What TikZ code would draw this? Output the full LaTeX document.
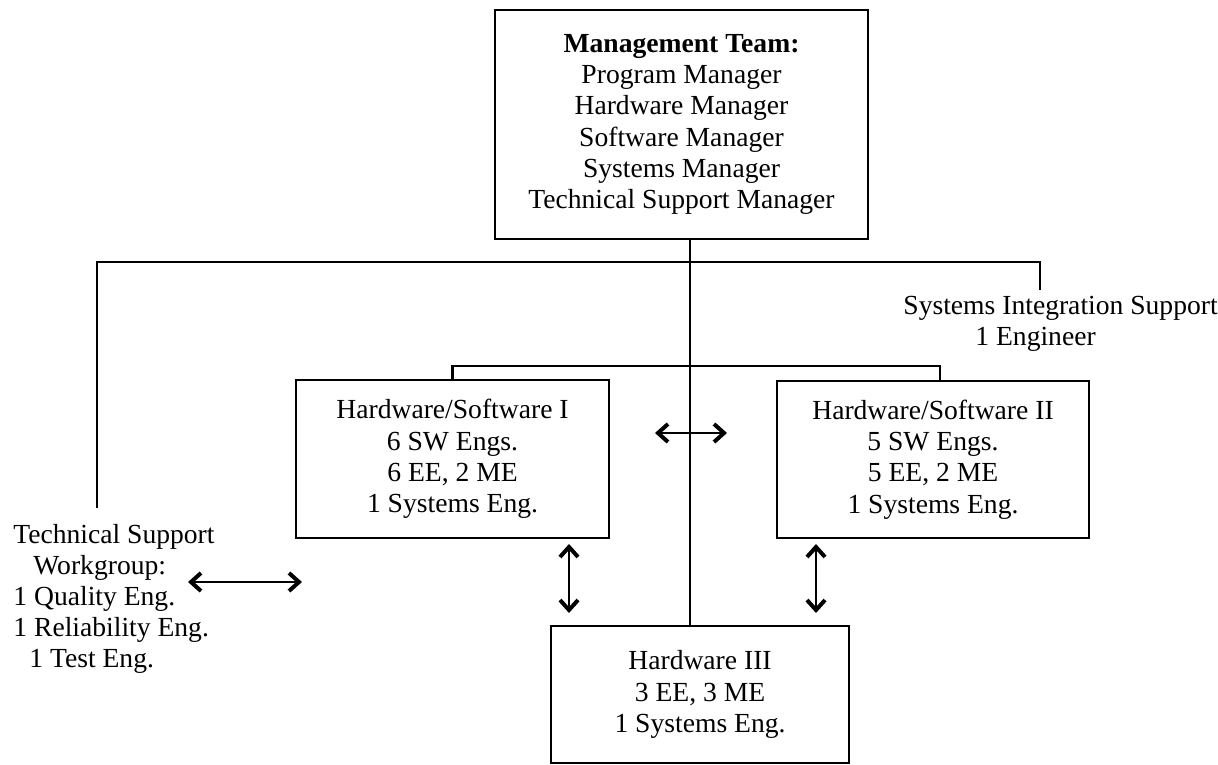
\documentclass[tikz,border=0pt]{standalone}
\usepackage{fontspec}
\setmainfont{Liberation Serif}
\usetikzlibrary{arrows.meta}
\begin{document}
\begin{tikzpicture}[x=0.5pt,y=-0.5pt,line width=1.4pt,
    box/.style={draw,align=center,inner sep=0pt,font=\fontsize{13.8}{15.6}\selectfont},
    lbl/.style={align=left,inner sep=0pt,font=\fontsize{13.8}{15.6}\selectfont},
    link/.style={<->,line width=1pt,>={Straight Barb[length=5pt,width=9pt,line width=2pt]}}]
  \useasboundingbox (0,0) rectangle (1218,764);
  % teams
  \node[box,minimum width=186.5pt,minimum height=114.5pt](mgmt) at(681.5,124.5)
    {\textbf{Management Team:}\\Program Manager\\Hardware Manager\\Software Manager\\Systems Manager\\Technical Support Manager};
  \node[box,minimum width=156.5pt,minimum height=79pt](hws1) at(452.5,459)
    {Hardware/Software I\\6 SW Engs.\\6 EE, 2 ME\\1 Systems Eng.};
  \node[box,minimum width=156pt,minimum height=78.5pt](hws2) at(933,459.5)
    {Hardware/Software II\\5 SW Engs.\\5 EE, 2 ME\\1 Systems Eng.};
  \node[box,minimum width=149pt,minimum height=68.5pt](hw3) at(700,694.5)
    {Hardware III\\3 EE, 3 ME\\1 Systems Eng.};
  \node[lbl,anchor=north west](tsw) at(12,522.5)
    {Technical Support\\\hspace*{10pt}Workgroup:\\1 Quality Eng.\\1 Reliability Eng.\\\hspace*{8pt}1 Test Eng.};
  \node[lbl,anchor=north west](sis) at(902,294.5)
    {Systems Integration Support\\\hspace*{36pt}1 Engineer};
  % tree lines
  \coordinate (jtop) at(690,262);
  \coordinate (tswtop) at(97,508);
  \coordinate (sistop) at(1040,290);
  \coordinate (br) at(940,366);
  \draw (mgmt.south -| jtop)--(hw3.north -| jtop);
  \draw (tswtop)|-(sistop |- jtop)--(sistop);
  \draw (hws1.north)|-(br)--(br |- hws2.north);
  % exchanges
  \coordinate (l1) at(188,582);  \coordinate (l2) at(302,582);
  \coordinate (m1) at(655,433);  \coordinate (m2) at(727,433);
  \coordinate (v1) at(569,544);  \coordinate (v2) at(569,613);
  \coordinate (w1) at(816,544);  \coordinate (w2) at(816,613);
  \foreach \a/\b in {l1/l2,m1/m2,v1/v2,w1/w2}{
    \draw[link](\a)--(\b);
  }
\end{tikzpicture}
\end{document}
